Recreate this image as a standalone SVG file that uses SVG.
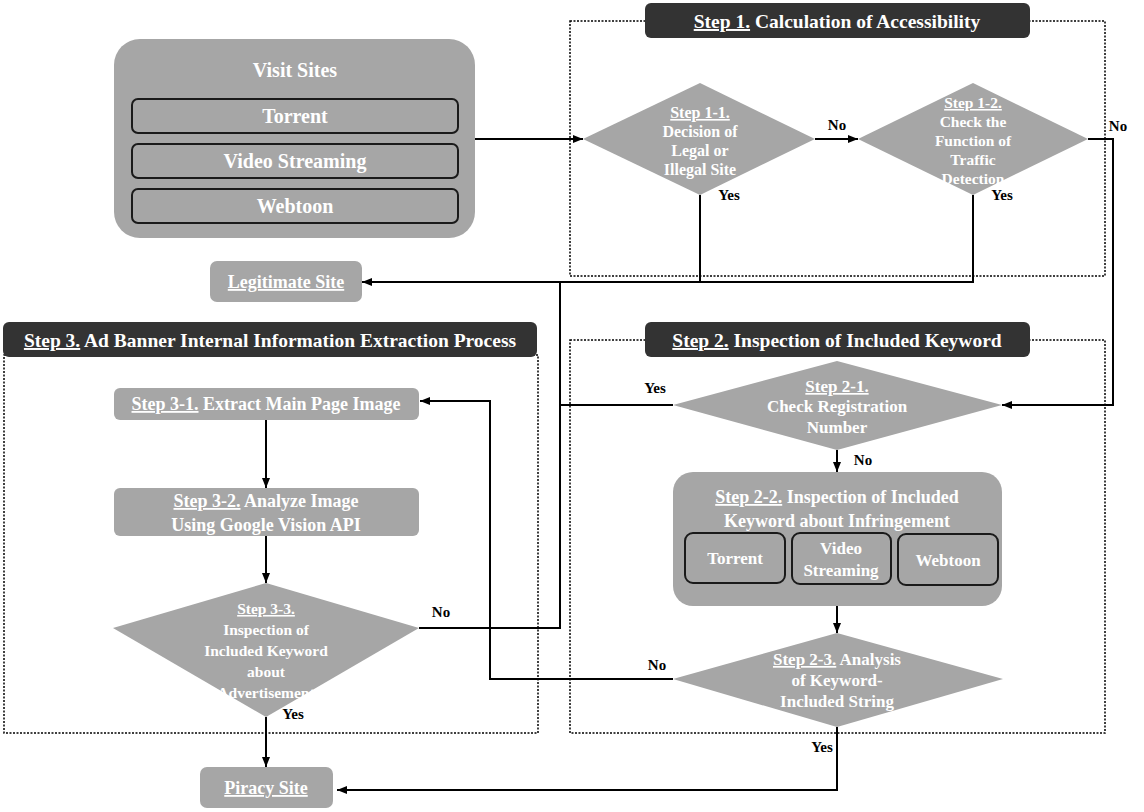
<svg xmlns="http://www.w3.org/2000/svg" width="1144" height="812" viewBox="0 0 1144 812">
<style>
.g{fill:#a6a6a6}
.t{font-weight:bold;fill:#fff;text-anchor:middle}
.tt{font-size:19.5px}
.nb{font-size:18px}
.vs{font-size:20px}
.n17{font-size:17px}
.nd{font-size:16px}
.n15{font-size:15.5px}
.lb{font-weight:bold;font-size:15px;fill:#000;text-anchor:middle}
.u{text-decoration:underline}
.dash{fill:none;stroke:#000;stroke-width:1.5;stroke-dasharray:2 1.5}
.title{fill:#333}
.inner{fill:#a6a6a6;stroke:#1a1a1a;stroke-width:2}
.c{fill:none;stroke:#000;stroke-width:2}
</style>
<defs>
<marker id="ah" markerUnits="userSpaceOnUse" markerWidth="10" markerHeight="10" refX="10" refY="5" orient="auto">
<path d="M0,1 L10,5 L0,9 z" fill="#000"/>
</marker>
</defs>
<rect width="1144" height="812" fill="#fff"/>
<g font-family="'Liberation Serif', 'Times New Roman', serif">

<g id="step1-frame">
<rect class="dash" x="570" y="21" width="535" height="255"/>
<rect class="title" x="645" y="3" width="385" height="35" rx="6"/>
<text class="t tt" x="837" y="28"><tspan class="u">Step 1.</tspan> Calculation of Accessibility</text>
</g>
<g id="step2-frame">
<rect class="dash" x="570" y="340" width="535" height="393"/>
<rect class="title" x="645" y="322" width="385" height="35" rx="6"/>
<text class="t tt" x="837" y="347"><tspan class="u">Step 2.</tspan> Inspection of Included Keyword</text>
</g>
<g id="step3-frame">
<rect class="dash" x="4" y="355" width="534" height="378"/>
<rect class="title" x="3" y="322" width="534" height="35" rx="6"/>
<text class="t tt" x="270" y="347"><tspan class="u">Step 3.</tspan> Ad Banner Internal Information Extraction Process</text>
</g>

<g id="connectors">
<path class="c" d="M475,139 H583" marker-end="url(#ah)"/>
<path class="c" d="M815,139 H858" marker-end="url(#ah)"/>
<path class="c" d="M1088,139 H1113 V405 H1002" marker-end="url(#ah)"/>
<path class="c" d="M700,195 V282"/>
<path class="c" d="M973,195 V282 H362" marker-end="url(#ah)"/>
<path class="c" d="M419,628 H560 V282"/>
<path class="c" d="M673,405 H560"/>
<path class="c" d="M837,450 V472" marker-end="url(#ah)"/>
<path class="c" d="M837,606 V633" marker-end="url(#ah)"/>
<path class="c" d="M673,679 H490 V401 H420" marker-end="url(#ah)"/>
<path class="c" d="M837,727 V790 H337" marker-end="url(#ah)"/>
<path class="c" d="M266,420 V488" marker-end="url(#ah)"/>
<path class="c" d="M266,536 V583" marker-end="url(#ah)"/>
<path class="c" d="M266,717 V767" marker-end="url(#ah)"/>
<text class="lb" x="837" y="130">No</text>
<text class="lb" x="1118" y="131">No</text>
<text class="lb" x="729" y="200">Yes</text>
<text class="lb" x="1002" y="200">Yes</text>
<text class="lb" x="655" y="393">Yes</text>
<text class="lb" x="863" y="465">No</text>
<text class="lb" x="657" y="670">No</text>
<text class="lb" x="822" y="752">Yes</text>
<text class="lb" x="441" y="617">No</text>
<text class="lb" x="293" y="719">Yes</text>
</g>

<g id="visit-sites">
<rect class="g" x="114" y="39" width="361" height="199" rx="26"/>
<text class="t vs" x="295" y="77">Visit Sites</text>
<rect class="inner" x="132" y="99" width="326" height="34" rx="6"/>
<text class="t vs" x="295" y="123">Torrent</text>
<rect class="inner" x="132" y="144" width="326" height="34" rx="6"/>
<text class="t vs" x="295" y="168">Video Streaming</text>
<rect class="inner" x="132" y="189" width="326" height="34" rx="6"/>
<text class="t vs" x="295" y="213">Webtoon</text>
</g>

<g id="step1-1">
<polygon class="g" points="700,83 815,139 700,195 583,139"/>
<text class="t nd" x="700" y="118"><tspan class="u">Step 1-1.</tspan></text>
<text class="t nd" x="700" y="137">Decision of</text>
<text class="t nd" x="700" y="156">Legal or</text>
<text class="t nd" x="700" y="175">Illegal Site</text>
</g>

<g id="step1-2">
<polygon class="g" points="973,83 1088,139 973,195 858,139"/>
<text class="t n15" x="973" y="108"><tspan class="u">Step 1-2.</tspan></text>
<text class="t n15" x="973" y="127">Check the</text>
<text class="t n15" x="973" y="146">Function of</text>
<text class="t n15" x="973" y="165">Traffic</text>
<text class="t n15" x="973" y="184">Detection</text>
</g>

<g id="legitimate-site">
<rect class="g" x="210" y="261" width="152" height="41" rx="7"/>
<text class="t nb" x="286" y="288"><tspan class="u">Legitimate Site</tspan></text>
</g>

<g id="step2-1">
<polygon class="g" points="837,361 1002,405 837,450 673,405"/>
<text class="t n17" x="837" y="392"><tspan class="u">Step 2-1.</tspan></text>
<text class="t n17" x="837" y="412">Check Registration</text>
<text class="t n17" x="837" y="433">Number</text>
</g>

<g id="step2-2">
<rect class="g" x="673" y="472" width="329" height="134" rx="20"/>
<text class="t nb" x="837" y="503"><tspan class="u">Step 2-2.</tspan> Inspection of Included</text>
<text class="t nb" x="837" y="527">Keyword about Infringement</text>
<rect class="inner" x="685" y="533" width="100" height="50" rx="8"/>
<text class="t n17" x="735" y="564">Torrent</text>
<rect class="inner" x="792" y="533" width="99" height="51" rx="8"/>
<text class="t n17" x="841" y="554">Video</text>
<text class="t n17" x="841" y="576">Streaming</text>
<rect class="inner" x="898" y="534" width="100" height="51" rx="8"/>
<text class="t n17" x="948" y="566">Webtoon</text>
</g>

<g id="step2-3">
<polygon class="g" points="837,633 1003,679 837,727 673,679"/>
<text class="t n17" x="837" y="665"><tspan class="u">Step 2-3.</tspan> Analysis</text>
<text class="t n17" x="837" y="686">of Keyword-</text>
<text class="t n17" x="837" y="707">Included String</text>
</g>

<g id="step3-1">
<rect class="g" x="114" y="388" width="305" height="32" rx="6"/>
<text class="t nb" x="266" y="410"><tspan class="u">Step 3-1.</tspan> Extract Main Page Image</text>
</g>

<g id="step3-2">
<rect class="g" x="114" y="488" width="305" height="48" rx="6"/>
<text class="t nb" x="266" y="507"><tspan class="u">Step 3-2.</tspan> Analyze Image</text>
<text class="t nb" x="266" y="531">Using Google Vision API</text>
</g>

<g id="step3-3">
<polygon class="g" points="266,583 419,628 266,717 113,628"/>
<text class="t n15" x="266" y="614"><tspan class="u">Step 3-3.</tspan></text>
<text class="t n15" x="266" y="635">Inspection of</text>
<text class="t n15" x="266" y="656">Included Keyword</text>
<text class="t n15" x="266" y="677">about</text>
<text class="t n15" x="266" y="698">Advertisement</text>
</g>

<g id="piracy-site">
<rect class="g" x="200" y="767" width="133" height="41" rx="7"/>
<text class="t nb" x="266" y="794"><tspan class="u">Piracy Site</tspan></text>
</g>
</g>
</svg>
